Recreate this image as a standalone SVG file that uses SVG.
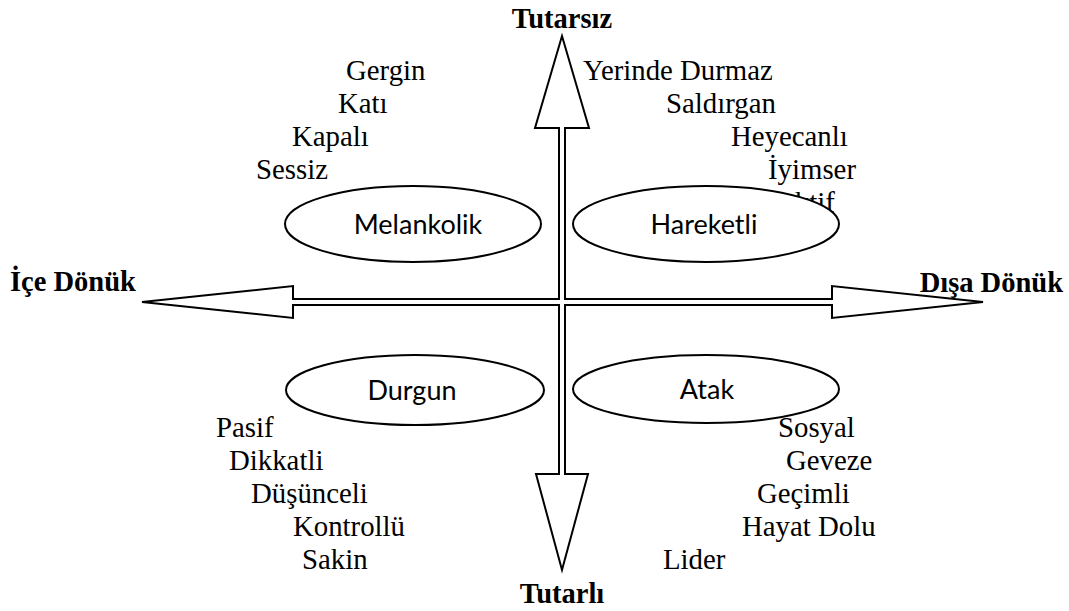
<svg xmlns="http://www.w3.org/2000/svg" width="1069" height="611" viewBox="0 0 1069 611">
<style>
.w{font-family:"Liberation Serif","Times New Roman",serif;font-size:28.8px;fill:#000}
.b{font-family:"Liberation Serif","Times New Roman",serif;font-size:28.5px;font-weight:bold;fill:#000}
.e{fill:#fff;stroke:#000;stroke-width:2}
.l{font-family:Lato,"Open Sans",sans-serif;font-size:27px;fill:#000;text-anchor:middle}
</style>
<rect width="1069" height="611" fill="#fff"/>
<g id="words">
<text class="w" x="346" y="80">Gergin</text>
<text class="w" x="338" y="113">Katı</text>
<text class="w" x="292" y="146">Kapalı</text>
<text class="w" x="256" y="179">Sessiz</text>
<text class="w" x="583" y="80">Yerinde Durmaz</text>
<text class="w" x="666" y="113">Saldırgan</text>
<text class="w" x="731" y="146">Heyecanlı</text>
<text class="w" x="768" y="179">İyimser</text>
<text class="w" x="774" y="212">Aktif</text>
<text class="w" x="216" y="437">Pasif</text>
<text class="w" x="229" y="470">Dikkatli</text>
<text class="w" x="251" y="503">Düşünceli</text>
<text class="w" x="293" y="536">Kontrollü</text>
<text class="w" x="302" y="569">Sakin</text>
<text class="w" x="778" y="437">Sosyal</text>
<text class="w" x="786" y="470">Geveze</text>
<text class="w" x="757" y="503">Geçimli</text>
<text class="w" x="742" y="536">Hayat Dolu</text>
<text class="w" x="663" y="569">Lider</text>
</g>
<g id="connectors">
<path d="M562,36 L589,128 L565,128 L565,299 L832,299 L832,286 L983,302 L832,318 L832,305 L565,305 L565,474 L588,474 L562,570 L536,474 L559,474 L559,305 L293,305 L293,318 L142,302 L293,286 L293,299 L559,299 L559,128 L535,128 Z" fill="#fff" stroke="#000" stroke-width="2" stroke-linejoin="miter"/>
</g>
<g id="axis-labels">
<text class="b" x="562" y="28" text-anchor="middle">Tutarsız</text>
<text class="b" x="562" y="603" text-anchor="middle">Tutarlı</text>
<text class="b" x="10" y="291">İçe Dönük</text>
<text class="b" x="1063" y="292" text-anchor="end">Dışa Dönük</text>
</g>
<g id="melankolik">
<ellipse class="e" cx="413" cy="224" rx="128" ry="38"/>
<text class="l" x="418" y="234">Melankolik</text>
</g>
<g id="hareketli">
<ellipse class="e" cx="706" cy="224" rx="133" ry="38"/>
<text class="l" x="704" y="234">Hareketli</text>
</g>
<g id="durgun">
<ellipse class="e" cx="415" cy="390" rx="129" ry="35"/>
<text class="l" x="412" y="400">Durgun</text>
</g>
<g id="atak">
<ellipse class="e" cx="706" cy="389" rx="133" ry="34"/>
<text class="l" x="707" y="399">Atak</text>
</g>
</svg>
